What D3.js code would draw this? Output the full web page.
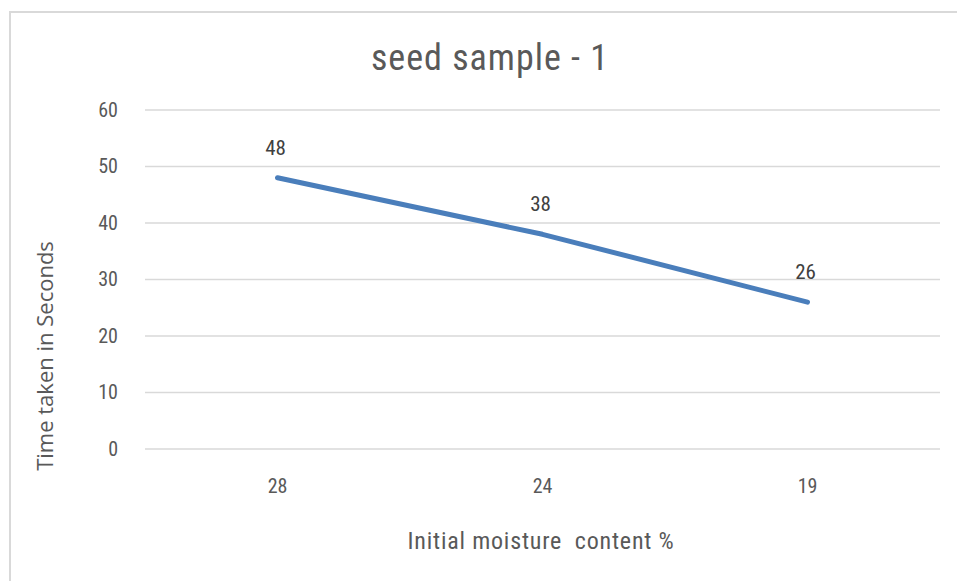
<!DOCTYPE html>
<html>
<head>
<meta charset="utf-8">
<script src="https://cdn.jsdelivr.net/npm/d3@7"></script>
<style>
  html, body { margin: 0; padding: 0; background: #fff; }
  svg { display: block; }
</style>
</head>
<body>
<div id="chart"></div>
<script>
// seed sample - 1 : time vs initial moisture content
var categories = ['28', '24', '19'];
var timeSeconds = [48, 38, 26];
var yTicks = [0, 10, 20, 30, 40, 50, 60];

var width = 957, height = 581;
var margin = { top: 110, right: 17, bottom: 132, left: 145 };
var narrow = '"Liberation Sans Narrow", "Roboto Condensed", Roboto, sans-serif';

var svg = d3.select('#chart').append('svg')
    .attr('width', width)
    .attr('height', height);

// chart frame (cropped at right/bottom like the source)
svg.append('rect')
    .attr('x', 10).attr('y', 12)
    .attr('width', width + 20).attr('height', height + 20)
    .attr('fill', 'none')
    .attr('stroke', '#d9d9d9')
    .attr('stroke-width', 2);

var x = d3.scaleBand()
    .domain(categories)
    .range([margin.left, width - margin.right]);

var y = d3.scaleLinear()
    .domain([0, 60])
    .range([height - margin.bottom, margin.top]);

// gridlines
svg.append('g')
    .selectAll('line')
    .data(yTicks)
    .join('line')
    .attr('x1', margin.left)
    .attr('x2', width - margin.right)
    .attr('y1', function(d) { return y(d); })
    .attr('y2', function(d) { return y(d); })
    .attr('stroke', '#d9d9d9')
    .attr('stroke-width', 1.5);

// y axis labels
var yAxis = svg.append('g')
    .attr('transform', 'translate(' + (margin.left - 27) + ',0)')
    .call(d3.axisLeft(y).tickValues(yTicks).tickSize(0).tickPadding(0));
yAxis.select('.domain').remove();
yAxis.selectAll('text')
    .attr('fill', '#595959')
    .style('font-family', narrow)
    .style('font-size', '20px');

// x axis labels
var xAxis = svg.append('g')
    .attr('transform', 'translate(0,' + (height - margin.bottom + 22) + ')')
    .call(d3.axisBottom(x).tickSize(0).tickPadding(8));
xAxis.select('.domain').remove();
xAxis.selectAll('text')
    .attr('fill', '#595959')
    .style('font-family', narrow)
    .style('font-size', '20px');

// line
var line = d3.line()
    .x(function(d, i) { return x(categories[i]) + x.bandwidth() / 2; })
    .y(function(d) { return y(d); });

svg.append('path')
    .datum(timeSeconds)
    .attr('d', line)
    .attr('fill', 'none')
    .attr('stroke', '#4a7ebb')
    .attr('stroke-width', 5)
    .attr('stroke-linecap', 'round')
    .attr('stroke-linejoin', 'round');

// data labels
svg.append('g')
    .selectAll('text')
    .data(timeSeconds)
    .join('text')
    .attr('x', function(d, i) { return x(categories[i]) + x.bandwidth() / 2 - 2; })
    .attr('y', function(d) { return y(d) - 23; })
    .attr('text-anchor', 'middle')
    .attr('fill', '#404040')
    .style('font-family', narrow)
    .style('font-size', '21px')
    .text(function(d) { return d; });

// title
svg.append('text')
    .attr('x', 490).attr('y', 70)
    .attr('text-anchor', 'middle')
    .attr('fill', '#595959')
    .style('font-family', narrow)
    .style('font-size', '36px')
    .style('letter-spacing', '1px')
    .text('seed sample - 1');

// axis titles
svg.append('text')
    .attr('x', 541).attr('y', 549)
    .attr('text-anchor', 'middle')
    .attr('fill', '#595959')
    .style('font-family', narrow)
    .style('font-size', '24px')
    .style('letter-spacing', '0.8px')
    .style('white-space', 'pre')
    .text('Initial moisture  content %');

svg.append('text')
    .attr('transform', 'translate(53,356) rotate(-90)')
    .attr('text-anchor', 'middle')
    .attr('fill', '#595959')
    .style('font-family', '"Open Sans", "Noto Sans", sans-serif')
    .style('font-size', '22px')
    .text('Time taken in Seconds');
</script>
</body>
</html>
